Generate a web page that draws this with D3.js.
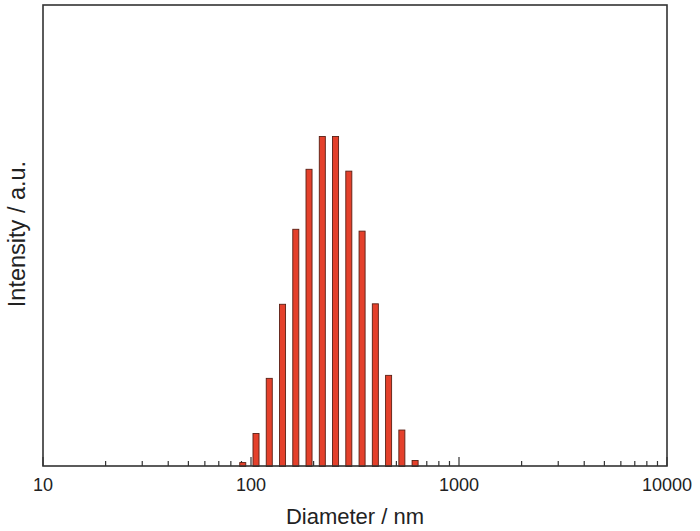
<!DOCTYPE html>
<html>
<head>
<meta charset="utf-8">
<script src="https://cdn.jsdelivr.net/npm/d3@7"></script>
<style>
  html, body { margin: 0; padding: 0; background: #fff; }
  svg { display: block; font-family: "Liberation Sans", Arial, sans-serif; }
</style>
</head>
<body>
<svg id="chart" width="700" height="531"></svg>
<script>
// Data: DLS size distribution (intensity %)
const diameters = [91.28, 105.7, 122.4, 141.8, 164.2, 190.1, 220.2, 255.0, 295.3, 342.0, 396.1, 458.7, 531.2, 615.1];
const intensities = [0.17, 1.43, 3.82, 7.03, 10.28, 12.88, 14.3, 14.3, 12.8, 10.2, 7.05, 3.95, 1.58, 0.26];
const xTickLabels = [10, 100, 1000, 10000];

const svg = d3.select("#chart");
const margin = { left: 43, top: 5, right: 33, bottom: 65 };
const W = 700, H = 531;
const x0 = margin.left, x1 = W - margin.right;
const y0 = H - margin.bottom, y1 = margin.top;

const x = d3.scaleLog().domain([10, 10000]).range([x0, x1]);
const y = d3.scaleLinear().domain([0, 20]).range([y0 + 0.5, y1]);

// Ticks (inward)
const minorVals = [];
[10, 100, 1000].forEach(dec => { for (let k = 2; k <= 9; k++) minorVals.push(dec * k); });
const majorVals = xTickLabels;

const tickG = svg.append("g");
tickG.selectAll("line.minor").data(minorVals).join("line")
  .attr("x1", d => x(d)).attr("x2", d => x(d))
  .attr("y1", y0).attr("y2", y0 - 5)
  .attr("stroke", "#333").attr("stroke-width", 1.2);
tickG.selectAll("line.major").data(majorVals).join("line")
  .attr("x1", d => x(d)).attr("x2", d => x(d))
  .attr("y1", y0).attr("y2", y0 - 9)
  .attr("stroke", "#333").attr("stroke-width", 1.2);

// Bars
const half = 0.0145; // half bar width in decades
svg.append("g").selectAll("rect").data(diameters).join("rect")
  .attr("x", d => x(d / Math.pow(10, half)))
  .attr("width", d => x(d * Math.pow(10, half)) - x(d / Math.pow(10, half)))
  .attr("y", (d, i) => y(intensities[i]))
  .attr("height", (d, i) => y(0) - y(intensities[i]))
  .attr("fill", "#e4402b")
  .attr("stroke", "#5a1f14")
  .attr("stroke-width", 0.9);

// Frame
svg.append("rect")
  .attr("x", x0).attr("y", y1)
  .attr("width", x1 - x0).attr("height", y0 - y1)
  .attr("fill", "none").attr("stroke", "#333").attr("stroke-width", 1.6);

// Tick labels
svg.append("g").selectAll("text").data(xTickLabels).join("text")
  .attr("x", d => x(d)).attr("y", y0 + 25)
  .attr("text-anchor", "middle")
  .attr("font-size", 18).attr("fill", "#222")
  .text(d => d);

// Axis titles
svg.append("text")
  .attr("x", (x0 + x1) / 2).attr("y", 524)
  .attr("text-anchor", "middle")
  .attr("font-size", 22).attr("fill", "#222")
  .text("Diameter / nm");

svg.append("text")
  .attr("transform", `translate(25, 234) rotate(-90)`)
  .attr("text-anchor", "middle")
  .attr("font-size", 23.5).attr("fill", "#222")
  .text("Intensity / a.u.");
</script>
</body>
</html>
